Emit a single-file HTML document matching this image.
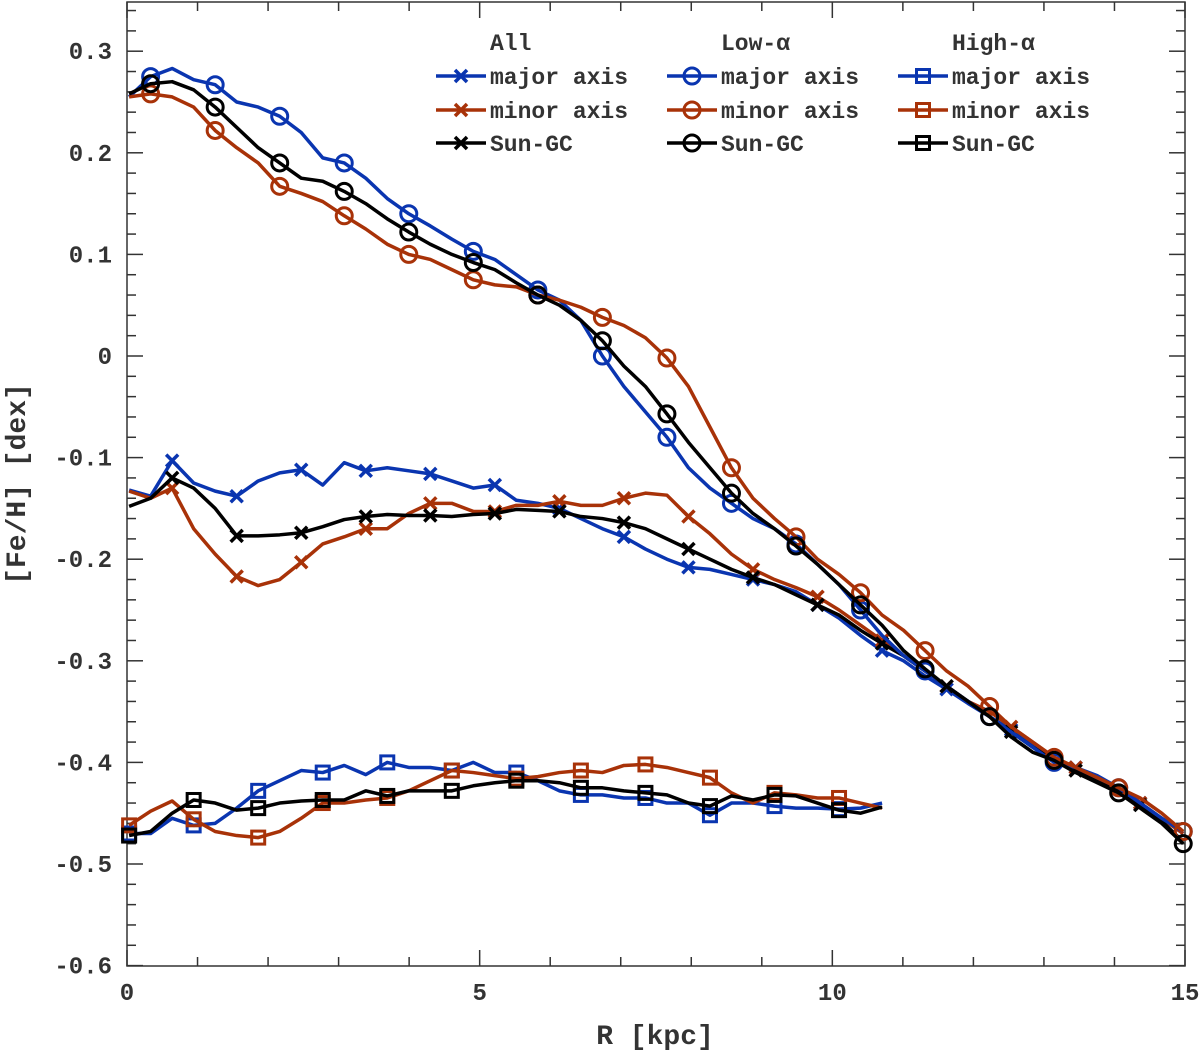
<!DOCTYPE html>
<html><head><meta charset="utf-8"><style>
body{margin:0;background:#fff}
svg text{font-family:"Liberation Mono",monospace;font-weight:bold;fill:#333}
</style></head><body>
<svg id="chart" width="1200" height="1053" viewBox="0 0 1200 1053" xmlns="http://www.w3.org/2000/svg">
<g id="grid"></g><g id="series"></g><g id="legend"></g>
</svg>
<script>
const R=[0.03,0.335,0.64,0.945,1.25,1.555,1.86,2.165,2.47,2.775,3.08,3.385,3.69,3.995,4.3,4.605,4.91,5.215,5.52,5.825,6.13,6.435,6.74,7.045,7.35,7.655,7.96,8.265,8.57,8.875,9.18,9.485,9.79,10.095,10.4,10.705,11.01,11.315,11.62,11.925,12.23,12.535,12.84,13.145,13.45,13.755,14.06,14.365,14.67,14.975];
const lowMajor=[0.255,0.275,0.283,0.272,0.267,0.25,0.245,0.236,0.22,0.195,0.19,0.175,0.155,0.14,0.128,0.115,0.103,0.095,0.08,0.065,0.055,0.035,0.0,-0.03,-0.055,-0.08,-0.11,-0.13,-0.145,-0.16,-0.17,-0.185,-0.205,-0.225,-0.25,-0.275,-0.295,-0.31,-0.325,-0.34,-0.355,-0.37,-0.385,-0.4,-0.405,-0.415,-0.425,-0.44,-0.455,-0.468];
const lowMinor=[0.255,0.258,0.255,0.245,0.222,0.205,0.19,0.167,0.16,0.152,0.138,0.125,0.11,0.1,0.095,0.085,0.075,0.07,0.068,0.06,0.055,0.048,0.038,0.03,0.018,-0.002,-0.03,-0.07,-0.11,-0.14,-0.16,-0.178,-0.2,-0.215,-0.233,-0.255,-0.27,-0.29,-0.31,-0.325,-0.345,-0.365,-0.38,-0.395,-0.405,-0.415,-0.425,-0.435,-0.45,-0.468];
const lowSun=[0.258,0.268,0.27,0.262,0.245,0.225,0.205,0.19,0.175,0.172,0.162,0.15,0.135,0.122,0.11,0.1,0.092,0.085,0.072,0.06,0.05,0.035,0.015,-0.01,-0.03,-0.057,-0.085,-0.11,-0.135,-0.155,-0.17,-0.187,-0.205,-0.225,-0.245,-0.265,-0.29,-0.308,-0.325,-0.34,-0.355,-0.375,-0.39,-0.398,-0.41,-0.42,-0.43,-0.445,-0.46,-0.48];
const allMajor=[-0.132,-0.138,-0.103,-0.125,-0.133,-0.138,-0.123,-0.115,-0.112,-0.127,-0.105,-0.113,-0.11,-0.113,-0.116,-0.123,-0.13,-0.127,-0.142,-0.145,-0.15,-0.16,-0.17,-0.178,-0.19,-0.2,-0.208,-0.21,-0.215,-0.22,-0.225,-0.232,-0.245,-0.258,-0.275,-0.29,-0.3,-0.315,-0.328,-0.342,-0.355,-0.368,-0.382,-0.398,-0.405,-0.413,-0.425,-0.44,-0.455,-0.47];
const allMinor=[-0.133,-0.14,-0.13,-0.17,-0.195,-0.217,-0.226,-0.22,-0.203,-0.185,-0.178,-0.17,-0.17,-0.155,-0.145,-0.145,-0.153,-0.153,-0.147,-0.147,-0.143,-0.147,-0.147,-0.14,-0.135,-0.137,-0.158,-0.175,-0.195,-0.21,-0.22,-0.228,-0.237,-0.25,-0.265,-0.28,-0.295,-0.31,-0.325,-0.34,-0.35,-0.365,-0.38,-0.395,-0.405,-0.415,-0.425,-0.44,-0.455,-0.47];
const allSun=[-0.148,-0.14,-0.12,-0.13,-0.15,-0.177,-0.177,-0.176,-0.174,-0.168,-0.161,-0.158,-0.156,-0.157,-0.157,-0.158,-0.156,-0.155,-0.151,-0.152,-0.153,-0.158,-0.16,-0.164,-0.17,-0.18,-0.19,-0.2,-0.21,-0.218,-0.225,-0.235,-0.245,-0.255,-0.27,-0.283,-0.295,-0.31,-0.325,-0.34,-0.355,-0.37,-0.385,-0.398,-0.408,-0.418,-0.428,-0.442,-0.458,-0.478];
const highMajor=[-0.47,-0.47,-0.455,-0.462,-0.46,-0.445,-0.428,-0.418,-0.408,-0.41,-0.403,-0.412,-0.4,-0.405,-0.405,-0.408,-0.4,-0.41,-0.41,-0.418,-0.428,-0.432,-0.432,-0.435,-0.435,-0.44,-0.44,-0.452,-0.44,-0.44,-0.443,-0.445,-0.445,-0.446,-0.445,-0.44];
const highMinor=[-0.462,-0.448,-0.438,-0.456,-0.468,-0.472,-0.474,-0.468,-0.455,-0.44,-0.44,-0.437,-0.435,-0.428,-0.418,-0.408,-0.41,-0.413,-0.416,-0.414,-0.41,-0.408,-0.41,-0.403,-0.402,-0.405,-0.41,-0.415,-0.43,-0.44,-0.43,-0.432,-0.435,-0.435,-0.44,-0.445];
const highSun=[-0.472,-0.468,-0.45,-0.437,-0.44,-0.447,-0.445,-0.44,-0.438,-0.437,-0.437,-0.428,-0.433,-0.428,-0.428,-0.428,-0.423,-0.42,-0.418,-0.418,-0.42,-0.425,-0.425,-0.428,-0.43,-0.432,-0.44,-0.443,-0.433,-0.437,-0.432,-0.433,-0.44,-0.447,-0.45,-0.444];
const xTicks=[0,5,10,15];
const yTicks=[0.3,0.2,0.1,0,-0.1,-0.2,-0.3,-0.4,-0.5,-0.6];
const yTickLabels=["0.3","0.2","0.1","0","-0.1","-0.2","-0.3","-0.4","-0.5","-0.6"];

const NS="http://www.w3.org/2000/svg";
const L=127,Rt=1185,T=2,B=966;
const X=v=>L+(v-0)/15*(Rt-L);
const Y=v=>356-v*1016;
function mk(tag,attrs,parent){const e=document.createElementNS(NS,tag);for(const k in attrs)e.setAttribute(k,attrs[k]);parent.appendChild(e);return e;}
const grid=document.getElementById('grid'),ser=document.getElementById('series'),leg=document.getElementById('legend');
const frame=mk('rect',{x:L,y:T,width:Rt-L,height:B-T,fill:'none',stroke:'#333','stroke-width':1.5},grid);


for(let v=0;v<=15;v++){const x=X(v),len=(v%5===0)?16:9;
 mk('line',{x1:x,y1:B,x2:x,y2:B-len,stroke:'#333','stroke-width':1.5},grid);
 mk('line',{x1:x,y1:T,x2:x,y2:T+len,stroke:'#333','stroke-width':1.5},grid);}
for(let k=-30;k<=17;k++){const v=k*0.02,y=Y(v);if(y<T||y>B)continue;const maj=(k%5===0);const len=maj?16:9;
 mk('line',{x1:L,y1:y,x2:L+len,y2:y,stroke:'#333','stroke-width':1.5},grid);
 mk('line',{x1:Rt,y1:y,x2:Rt-len,y2:y,stroke:'#333','stroke-width':1.5},grid);}
xTicks.forEach(v=>{const t=mk('text',{x:X(v),y:1000,'text-anchor':'middle','font-size':24},grid);t.textContent=String(v);
 
 });
yTicks.forEach((v,i)=>{const t=mk('text',{x:112,y:Y(v)+8,'text-anchor':'end','font-size':24},grid);t.textContent=yTickLabels[i];
 
 });
const xt=mk('text',{x:655,y:1044,'text-anchor':'middle','font-size':28},grid);xt.textContent='R [kpc]';


const yt=mk('text',{x:0,y:0,'text-anchor':'middle','font-size':28,transform:'translate(25,484) rotate(-90)'},grid);yt.textContent='[Fe/H]  [dex]';



function marker(type,x,y,col,parent){
 if(type==='x'){const g=mk('g',{stroke:col,'stroke-width':3.5},parent);mk('line',{x1:x-6,y1:y-6,x2:x+6,y2:y+6},g);mk('line',{x1:x-6,y1:y+6,x2:x+6,y2:y-6},g);return g;}
 if(type==='o')return mk('circle',{cx:x,cy:y,r:8,fill:'none',stroke:col,'stroke-width':3},parent);
 return mk('rect',{x:x-6.5,y:y-6.5,width:13,height:13,fill:'none',stroke:col,'stroke-width':3},parent);
}
const BL='#0a35b0',RD='#a83208',BK='#000';
const series=[
 {name:'all-major-axis',vals:allMajor,col:BL,m:'x',off:2},
 {name:'all-minor-axis',vals:allMinor,col:RD,m:'x',off:2},
 {name:'all-sun-gc',vals:allSun,col:BK,m:'x',off:2},
 {name:'high-alpha-major-axis',vals:highMajor,col:BL,m:'s',off:0},
 {name:'high-alpha-minor-axis',vals:highMinor,col:RD,m:'s',off:0},
 {name:'high-alpha-sun-gc',vals:highSun,col:BK,m:'s',off:0},
 {name:'low-alpha-major-axis',vals:lowMajor,col:BL,m:'o',off:1},
 {name:'low-alpha-minor-axis',vals:lowMinor,col:RD,m:'o',off:1},
 {name:'low-alpha-sun-gc',vals:lowSun,col:BK,m:'o',off:1}];
series.forEach(s=>{
 const g=mk('g',{},ser);
 
 
 const pts=s.vals.map((v,i)=>X(R[i])+','+Y(v)).join(' ');
 mk('polyline',{points:pts,fill:'none',stroke:s.col,'stroke-width':3.5,'stroke-linejoin':'round'},g);
 s.vals.forEach((v,i)=>{if(i%3===s.off){const m=marker(s.m,X(R[i]),Y(v),s.col,g);
  
  }});
});
const cols=[{title:'All',x:436,m:'x',id:'all'},{title:'Low-α',x:667,m:'o',id:'low-alpha'},{title:'High-α',x:898,m:'s',id:'high-alpha'}];
const rows=[{label:'major axis',col:BL,y:76},{label:'minor axis',col:RD,y:110},{label:'Sun-GC',col:BK,y:143}];
cols.forEach(c=>{
 const h=mk('text',{x:c.x+54,y:50,'font-size':23},leg);h.textContent=c.title;
 
 
 rows.forEach(r=>{
  const g=mk('g',{},leg);
  
  
  mk('line',{x1:c.x,y1:r.y,x2:c.x+50,y2:r.y,stroke:r.col,'stroke-width':3.5},g);
  marker(c.m,c.x+25,r.y,r.col,g);
  const t=mk('text',{x:c.x+54,y:r.y+8,'font-size':23},g);t.textContent=r.label;
 });
});
</script>
</body></html>
